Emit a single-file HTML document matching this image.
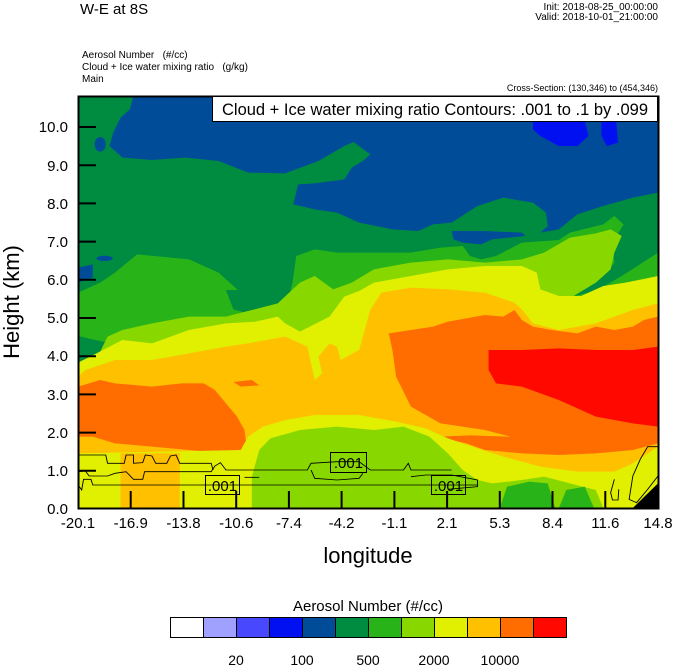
<!DOCTYPE html>
<html><head><meta charset="utf-8"><style>
body{margin:0;background:#fff;}
#c{position:relative;width:674px;height:667px;overflow:hidden;font-family:"Liberation Sans",sans-serif;color:#000;}
.t{position:absolute;white-space:nowrap;line-height:1;}
</style></head><body><div id="c">
<div class="t" style="left:80px;top:2px;font-size:15px;">W-E at 8S</div>
<div class="t" style="right:16px;top:3px;font-size:10px;text-align:right;">Init: 2018-08-25_00:00:00<br>Valid: 2018-10-01_21:00:00</div>
<div class="t" style="left:82px;top:50px;font-size:10px;line-height:12px;">Aerosol Number &nbsp;&nbsp;(#/cc)<br>Cloud + Ice water mixing ratio &nbsp;&nbsp;(g/kg)<br>Main</div>
<div class="t" style="right:16px;top:84px;font-size:9px;">Cross-Section: (130,346) to (454,346)</div>

<svg style="position:absolute;left:78px;top:96px" width="580" height="412" viewBox="0 0 1568 1236" preserveAspectRatio="none">
<rect width="1568" height="1236" fill="#004c98"/>
<polygon fill="#0010f0" points="1230,75 1370,75 1380,120 1350,150 1300,150 1250,120 1230,100"/>
<polygon fill="#0010f0" points="1415,75 1455,75 1460,140 1430,150 1415,120"/>
<polygon fill="#008c40" points="0,0 150,0 140,40 115,65 95,110 85,150 120,185 200,192 290,185 380,195 460,230 560,232 650,195 720,150 745,138 790,175 770,195 740,215 720,250 640,262 595,265 582,325 640,340 700,350 760,380 850,400 920,405 960,385 1010,380 1080,330 1150,305 1230,320 1265,350 1270,390 1250,410 1300,400 1350,355 1420,330 1500,305 1568,290 1568,1236 0,1236"/>
<polygon fill="#004c98" points="1010,405 1100,405 1200,410 1210,420 1120,430 1090,445 1040,440 1015,430"/>
<ellipse cx="60" cy="145" rx="15" ry="22" fill="#004c98"/>
<ellipse cx="72" cy="487" rx="22" ry="8" fill="#004c98"/>
<polygon fill="#004c98" points="0,515 40,505 40,545 0,560"/>
<polygon fill="#28b418" points="0,590 60,560 100,530 160,475 300,490 380,530 440,590 520,640 560,650 580,560 590,480 640,460 700,470 900,470 980,455 1040,450 1060,480 1090,490 1130,480 1200,440 1300,432 1330,410 1420,385 1450,360 1475,385 1445,440 1450,500 1420,540 1370,560 1340,600 1400,585 1470,540 1568,470 1568,1236 0,1236"/>
<polygon fill="#008c40" points="400,582 560,582 540,632 460,652 420,640"/>
<polygon fill="#008c40" points="0,720 40,730 80,740 70,790 30,830 0,850"/>
<polygon fill="#88d800" points="80,722 120,702 200,682 300,662 400,662 470,642 540,622 600,560 640,540 690,580 740,560 800,520 900,500 1000,490 1100,500 1200,490 1260,470 1330,425 1400,412 1440,400 1470,420 1450,470 1440,520 1400,560 1340,600 1320,640 1380,620 1470,600 1530,560 1568,540 1568,1236 0,1236 0,900"/>
<polygon fill="#e0f000" points="0,800 50,772 120,732 200,742 300,702 400,682 480,677 540,662 560,682 600,707 680,662 720,602 760,585 800,560 900,540 1000,520 1100,510 1200,510 1240,530 1250,580 1300,600 1360,600 1420,570 1480,560 1568,540 1568,1236 0,1236"/>
<polygon fill="#ffc000" points="0,842 20,822 100,792 200,792 300,772 400,752 460,742 560,722 620,752 640,852 660,832 650,782 680,742 700,752 710,792 760,762 790,642 820,590 900,575 1000,580 1100,590 1180,620 1200,640 1230,682 1300,702 1400,682 1450,662 1500,642 1568,622 1568,1236 0,1236"/>
<polygon fill="#ff6c00" points="0,872 60,852 100,862 200,872 280,862 340,862 370,882 400,922 430,962 450,1002 455,1042 440,1062 400,1072 300,1062 200,1052 100,1042 40,1022 0,1022"/>
<polygon fill="#ff6c00" points="420,858 470,852 490,868 440,872"/>
<polygon fill="#ff6c00" points="840,712 900,702 960,692 1000,677 1050,667 1100,657 1150,662 1180,642 1200,672 1230,692 1280,702 1350,712 1400,692 1450,702 1500,692 1530,672 1568,662 1568,1042 1500,1062 1400,1072 1300,1077 1200,1072 1100,1062 1050,1042 1000,1030 980,1022 1060,1018 1170,1022 1100,1002 980,982 900,932 860,842 850,762"/>
<polygon fill="#ff0800" points="1110,762 1200,762 1300,757 1400,762 1500,762 1568,752 1568,992 1500,982 1400,962 1300,912 1200,872 1130,862 1110,822"/>
<polygon fill="#e0f000" points="0,1072 440,1062 460,1022 500,992 560,972 640,957 760,957 860,977 940,997 1000,1027 1080,1057 1150,1082 1250,1112 1350,1127 1450,1127 1500,1102 1568,1052 1568,1236 0,1236"/>
<rect x="115" y="1072" width="160" height="164" fill="#ffc000"/>
<polygon fill="#88d800" points="470,1142 490,1062 520,1027 600,1002 700,992 800,1002 880,992 950,1022 1000,1072 1040,1122 1080,1152 1120,1162 1200,1152 1260,1142 1330,1162 1400,1182 1420,1236 470,1236"/>
<polygon fill="#28b418" points="1140,1236 1160,1172 1220,1157 1270,1162 1290,1236"/>
<polygon fill="#28b418" points="1300,1236 1320,1182 1370,1172 1395,1236"/>
<polygon fill="#000" points="1500,1236 1568,1162 1568,1236"/>
<g fill="none" stroke="#000" stroke-width="2.5">
<polyline points="0,1077 75,1077 80,1102 125,1102 130,1077 150,1077 150,1102 175,1100 182,1077 200,1080 210,1102 240,1102 250,1080 265,1077 275,1102 360,1102 365,1122"/>
<polyline points="0,1127 20,1125 30,1140 80,1140 100,1132 130,1127 150,1150 175,1150 180,1127 250,1127 280,1127 360,1127 370,1110 385,1100 400,1122 620,1122 630,1102 700,1097 760,1097 790,1122 880,1122 893,1102 900,1122 1010,1122"/>
<polyline points="0,1167 10,1182 15,1150 35,1150 40,1167 130,1167 300,1167 1080,1167"/>
<polyline points="450,1144 490,1144"/>
<polyline points="630,1122 640,1147 700,1152 760,1147 770,1132"/>
<polyline points="900,1142 940,1137 1010,1137 1080,1152 1080,1172 1000,1180"/>
<polyline points="1568,1052 1540,1052 1520,1090 1500,1140 1490,1210 1510,1220 1540,1180 1568,1140"/>
<polyline points="1450,1150 1440,1190 1445,1212 1460,1212 1462,1180"/>
</g>
</svg>

<svg style="position:absolute;left:0;top:0" width="674" height="667">
<rect x="78.5" y="96.5" width="580" height="412" fill="none" stroke="#000" stroke-width="2"/>
<g stroke="#000" stroke-width="2">
<line x1="78" y1="470.8" x2="96" y2="470.8"/><line x1="78" y1="432.6" x2="96" y2="432.6"/><line x1="78" y1="394.4" x2="96" y2="394.4"/><line x1="78" y1="356.2" x2="96" y2="356.2"/><line x1="78" y1="318" x2="96" y2="318"/><line x1="78" y1="279.8" x2="96" y2="279.8"/><line x1="78" y1="241.6" x2="96" y2="241.6"/><line x1="78" y1="203.4" x2="96" y2="203.4"/><line x1="78" y1="165.2" x2="96" y2="165.2"/><line x1="78" y1="127" x2="96" y2="127"/>
<line x1="130.7" y1="508" x2="130.7" y2="491"/><line x1="183.5" y1="508" x2="183.5" y2="491"/><line x1="236.2" y1="508" x2="236.2" y2="491"/><line x1="288.9" y1="508" x2="288.9" y2="491"/><line x1="341.6" y1="508" x2="341.6" y2="491"/><line x1="394.4" y1="508" x2="394.4" y2="491"/><line x1="447.1" y1="508" x2="447.1" y2="491"/><line x1="499.8" y1="508" x2="499.8" y2="491"/><line x1="552.5" y1="508" x2="552.5" y2="491"/><line x1="605.3" y1="508" x2="605.3" y2="491"/>
</g>
<g fill="none" stroke="#000" stroke-width="1">
<rect x="205.5" y="475.5" width="34" height="19"/><rect x="330.5" y="452.5" width="36" height="20"/><rect x="431.5" y="475.5" width="34" height="19"/>
</g>
<g font-family="Liberation Sans, sans-serif" font-size="15" text-anchor="middle">
<text x="222.5" y="491">.001</text><text x="348.5" y="468">.001</text><text x="448.5" y="491">.001</text>
</g>
<rect x="212.5" y="96.5" width="445" height="25" fill="#fff" stroke="#000"/>
<text x="435" y="115" font-family="Liberation Sans, sans-serif" font-size="16.5" text-anchor="middle">Cloud + Ice water mixing ratio Contours: .001 to .1 by .099</text>
<g font-family="Liberation Sans, sans-serif" font-size="15" text-anchor="end">
<text x="68" y="514">0.0</text><text x="68" y="476">1.0</text><text x="68" y="438">2.0</text><text x="68" y="400">3.0</text><text x="68" y="361">4.0</text><text x="68" y="323">5.0</text><text x="68" y="285">6.0</text><text x="68" y="247">7.0</text><text x="68" y="209">8.0</text><text x="68" y="171">9.0</text><text x="68" y="132">10.0</text>
</g>
<g font-family="Liberation Sans, sans-serif" font-size="15" text-anchor="middle">
<text x="78" y="528">-20.1</text><text x="130.7" y="528">-16.9</text><text x="183.5" y="528">-13.8</text><text x="236.2" y="528">-10.6</text><text x="288.9" y="528">-7.4</text><text x="341.6" y="528">-4.2</text><text x="394.4" y="528">-1.1</text><text x="447.1" y="528">2.1</text><text x="499.8" y="528">5.3</text><text x="552.5" y="528">8.4</text><text x="605.3" y="528">11.6</text><text x="658" y="528">14.8</text>
</g>
<text x="368" y="563" font-family="Liberation Sans, sans-serif" font-size="22" text-anchor="middle">longitude</text>
<text transform="translate(19,302) rotate(-90)" font-family="Liberation Sans, sans-serif" font-size="22" text-anchor="middle">Height (km)</text>
<text x="368" y="611" font-family="Liberation Sans, sans-serif" font-size="15" text-anchor="middle">Aerosol Number  (#/cc)</text>
<g stroke="#000" stroke-width="1">
<rect x="170.5" y="617.5" width="33" height="20" fill="#fff"/><rect x="203.5" y="617.5" width="33" height="20" fill="#a0a0ff"/><rect x="236.5" y="617.5" width="33" height="20" fill="#4848ff"/><rect x="269.5" y="617.5" width="33" height="20" fill="#0010f0"/><rect x="302.5" y="617.5" width="33" height="20" fill="#004c98"/><rect x="335.5" y="617.5" width="33" height="20" fill="#008c40"/><rect x="368.5" y="617.5" width="33" height="20" fill="#28b418"/><rect x="401.5" y="617.5" width="33" height="20" fill="#88d800"/><rect x="434.5" y="617.5" width="33" height="20" fill="#e0f000"/><rect x="467.5" y="617.5" width="33" height="20" fill="#ffc000"/><rect x="500.5" y="617.5" width="33" height="20" fill="#ff6c00"/><rect x="533.5" y="617.5" width="33" height="20" fill="#ff0800"/>
</g>
<g font-family="Liberation Sans, sans-serif" font-size="14" text-anchor="middle">
<text x="236" y="665">20</text><text x="302" y="665">100</text><text x="368" y="665">500</text><text x="434" y="665">2000</text><text x="500" y="665">10000</text>
</g>
</svg>
</div></body></html>
